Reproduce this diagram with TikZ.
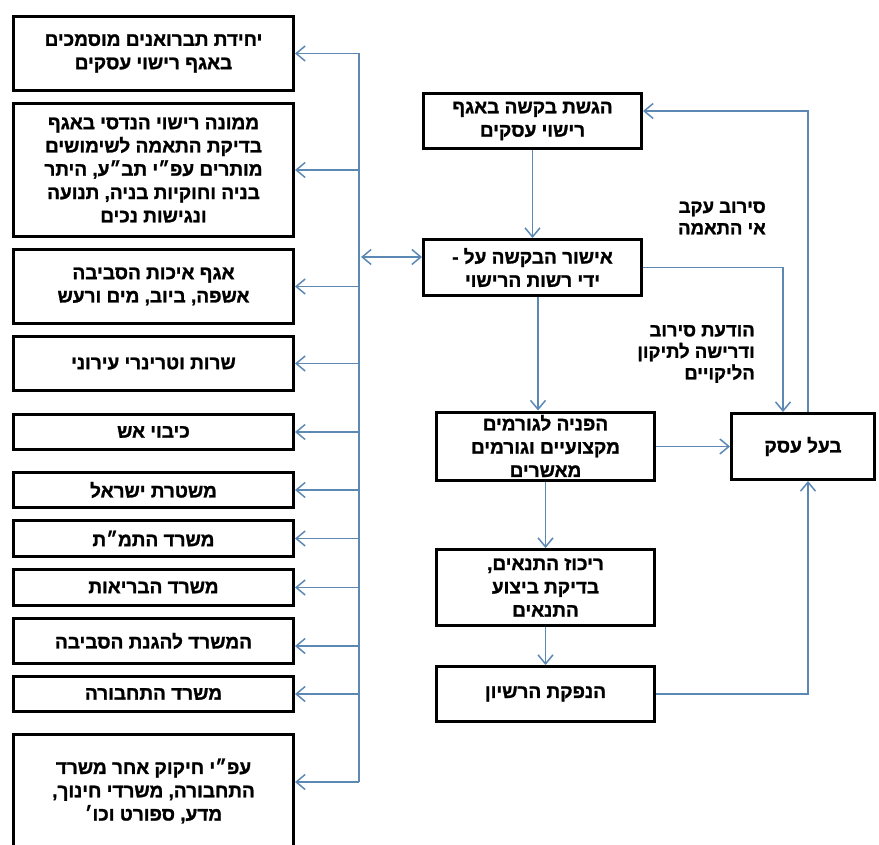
\documentclass[tikz,border=0pt]{standalone}
\usepackage{fontspec}
\setmainfont{Liberation Sans}
\newfontfamily\hebfont[Script=Hebrew,BoldFont={Liberation Sans Bold},BoldFeatures={FakeBold=1.3}]{Liberation Sans}
\TeXXeTstate=1
\usetikzlibrary{arrows.meta,calc}
\definecolor{conncol}{RGB}{92,136,180}
\newcommand{\hebline}[1]{\beginR #1\endR}
\tikzset{
  box/.style={draw=black, line width=3pt, inner sep=0pt, align=center, fill=white,
    font=\hebfont\bfseries\fontsize{19}{23.3}\selectfont},
  conn/.style={draw=conncol, line width=1.5pt},
  arr/.style={conn, -{Straight Barb[length=9pt,width=15pt]}},
  darr/.style={conn, {Straight Barb[length=9pt,width=15pt]}-{Straight Barb[length=9pt,width=15pt]}},
  lbl/.style={align=right, inner sep=0pt, font=\hebfont\bfseries\fontsize{18.5}{21.5}\selectfont}
}
\begin{document}
\begin{tikzpicture}[x=1pt,y=-1pt]
\useasboundingbox (0,0) rectangle (879,845);
\fill[white] (0,0) rectangle (879,845);
% left column
\node[box, minimum width=280pt, minimum height=74pt] (b1) at (153.5,53.5)
  {\hebline{יחידת תברואנים מוסמכים}\\\hebline{באגף רישוי עסקים}};
\node[box, minimum width=280pt, minimum height=133pt] (b2) at (153.5,170)
  {\hebline{ממונה רישוי הנדסי באגף}\\\hebline{בדיקת התאמה לשימושים}\\\hebline{מותרים עפ״י תב״ע, היתר}\\\hebline{בניה וחוקיות בניה, תנועה}\\\hebline{ונגישות נכים}};
\node[box, minimum width=280pt, minimum height=74pt] (b3) at (153.5,286.5)
  {\hebline{אגף איכות הסביבה}\\\hebline{אשפה, ביוב, מים ורעש}};
\node[box, minimum width=280pt, minimum height=54pt] (b4) at (153.5,363.5)
  {\hebline{שרות וטרינרי עירוני}};
\node[box, minimum width=280pt, minimum height=35pt] (b5) at (153.5,432)
  {\hebline{כיבוי אש}};
\node[box, minimum width=280pt, minimum height=35pt] (b6) at (153.5,490)
  {\hebline{משטרת ישראל}};
\node[box, minimum width=280pt, minimum height=36pt] (b7) at (153.5,538.5)
  {\hebline{משרד התמ״ת}};
\node[box, minimum width=280pt, minimum height=36pt] (b8) at (153.5,587.5)
  {\hebline{משרד הבריאות}};
\node[box, minimum width=280pt, minimum height=45pt] (b9) at (153.5,641)
  {\hebline{המשרד להגנת הסביבה}};
\node[box, minimum width=280pt, minimum height=35pt] (b10) at (153.5,694)
  {\hebline{משרד התחבורה}};
\node[box, minimum width=280pt, minimum height=114pt] (b11) at (153.5,791)
  {\hebline{עפ״י חיקוק אחר משרד}\\\hebline{התחבורה, משרדי חינוך,}\\\hebline{מדע, ספורט וכו׳}};
% right column
\node[box, minimum width=218pt, minimum height=55pt] (A) at (532.5,121)
  {\hebline{הגשת בקשה באגף}\\\hebline{רישוי עסקים}};
\node[box, minimum width=218pt, minimum height=56pt] (B) at (532.5,267.5)
  {\hebline{אישור הבקשה על -}\\\hebline{ידי רשות הרישוי}};
\node[box, minimum width=218pt, minimum height=68pt] (C) at (545.5,446)
  {\hebline{הפניה לגורמים}\\\hebline{מקצועיים וגורמים}\\\hebline{מאשרים}};
\node[box, minimum width=143pt, minimum height=66pt] (D) at (803,446.5)
  {\hebline{בעל עסק}};
\node[box, minimum width=218pt, minimum height=76pt] (E) at (545.5,587.5)
  {\hebline{ריכוז התנאים,}\\\hebline{בדיקת ביצוע}\\\hebline{התנאים}};
\node[box, minimum width=218pt, minimum height=55pt] (F) at (545.5,694)
  {\hebline{הנפקת הרשיון}};
% labels
\node[lbl, anchor=east] (L1) at (766,218) {\hebline{סירוב עקב}\\\hebline{אי התאמה}};
\node[lbl, anchor=east] (L2) at (755,354) {\hebline{הודעת סירוב}\\\hebline{ודרישה לתיקון}\\\hebline{הליקויים}};
% bus
\coordinate (bus) at (359,0);
\coordinate (busend) at ($(bus |- b11.east)+(0,-9)$);
\coordinate (b9e) at ($(b9.east)+(0,5)$);
\coordinate (bw) at ($(B.west)+(0,-10.5)$);
\coordinate (bs) at ($(B.south)+(5.5,0)$);
\coordinate (ds) at ($(D.south)+(5,0)$);
\coordinate (dn1) at ($(D.north)+(-20,0)$);
\coordinate (dn2) at ($(D.north)+(5,0)$);
\coordinate (ae) at ($(A.east)+(0,-10)$);
\draw[conn] (bus |- b1.east) -- (busend);
\draw[arr] (bus |- b1.east) -- (b1.east);
\draw[arr] (bus |- b2.east) -- (b2.east);
\draw[arr] (bus |- b3.east) -- (b3.east);
\draw[arr] (bus |- b4.east) -- (b4.east);
\draw[arr] (bus |- b5.east) -- (b5.east);
\draw[arr] (bus |- b6.east) -- (b6.east);
\draw[arr] (bus |- b7.east) -- (b7.east);
\draw[arr] (bus |- b8.east) -- (b8.east);
\draw[arr] (bus |- b9e) -- (b9e);
\draw[arr] (bus |- b10.east) -- (b10.east);
\draw[arr] (busend) -- (b11.east |- busend);
\draw[darr] ([xshift=2pt]bus |- bw) -- (bw);
% flow
\draw[arr] (A.south) -- (A.south |- B.north);
\draw[arr] (bs) -- (bs |- C.north);
\draw[arr] (C.south) -- (E.north);
\draw[arr] (E.south) -- (F.north);
\draw[arr] (C.east |- D.west) -- (D.west);
\draw[arr] (F.east) -| (ds);
\draw[arr] (B.east) -| (dn1);
\draw[arr] (dn2) |- (ae);
\end{tikzpicture}
\end{document}
